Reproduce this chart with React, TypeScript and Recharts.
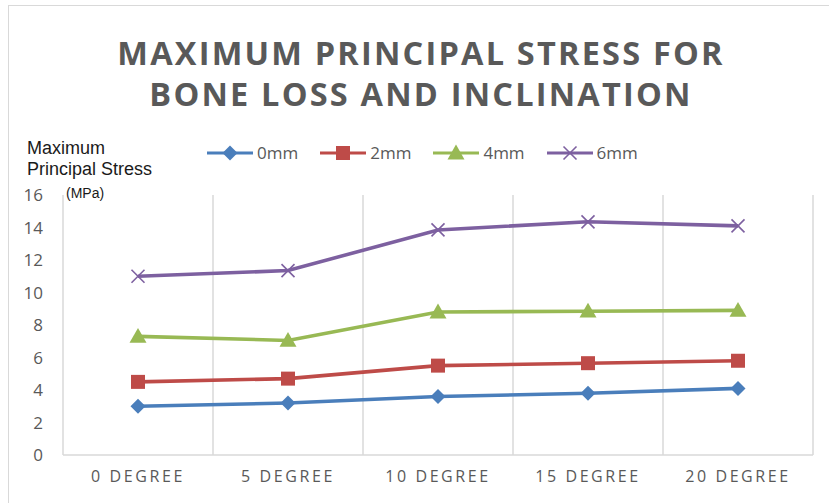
import { CartesianGrid, Line, LineChart, XAxis, YAxis } from 'recharts'

const categories = ['0 DEGREE', '5 DEGREE', '10 DEGREE', '15 DEGREE', '20 DEGREE']
const seriesNames = ['0mm', '2mm', '4mm', '6mm']
const loss0 = [3.0, 3.2, 3.6, 3.8, 4.1]
const loss2 = [4.5, 4.7, 5.5, 5.65, 5.8]
const loss4 = [7.3, 7.05, 8.8, 8.85, 8.9]
const loss6 = [11.0, 11.35, 13.85, 14.35, 14.1]
const yTicks = [0, 2, 4, 6, 8, 10, 12, 14, 16]

const data = categories.map((name, i) => ({
  name,
  '0mm': loss0[i],
  '2mm': loss2[i],
  '4mm': loss4[i],
  '6mm': loss6[i]
}))

const colors: Record<string, string> = {
  '0mm': '#4A7EBB',
  '2mm': '#BE4B48',
  '4mm': '#98B954',
  '6mm': '#7D60A0'
}

const GREY = '#595959'
const FONT = '"Open Sans", "DejaVu Sans", sans-serif'
const ARIAL = '"Liberation Sans", Arial, sans-serif'

function Marker({ kind, cx, cy, color }: { kind: string; cx: number; cy: number; color: string }) {
  if (kind === '0mm') {
    const r = 7.5
    return <polygon points={`${cx},${cy - r} ${cx + r},${cy} ${cx},${cy + r} ${cx - r},${cy}`} fill={color} />
  }
  if (kind === '2mm') {
    const r = 7
    return <rect x={cx - r} y={cy - r} width={r * 2} height={r * 2} fill={color} />
  }
  if (kind === '4mm') {
    const r = 8.5
    return <polygon points={`${cx},${cy - r} ${cx + r},${cy + r * 0.75} ${cx - r},${cy + r * 0.75}`} fill={color} />
  }
  const r = 6.5
  return (
    <g stroke={color} strokeWidth={1.6}>
      <line x1={cx - r} y1={cy - r} x2={cx + r} y2={cy + r} />
      <line x1={cx - r} y1={cy + r} x2={cx + r} y2={cy - r} />
    </g>
  )
}

const makeDot = (kind: string) => (props: any) => (
  <Marker key={`${kind}-${props.index}`} kind={kind} cx={props.cx} cy={props.cy} color={colors[kind]} />
)

function ChartLegend() {
  return (
    <div style={{ position: 'absolute', left: 207, top: 141, display: 'flex', alignItems: 'center' }}>
      {seriesNames.map((k) => (
        <div key={k} style={{ display: 'flex', alignItems: 'center', marginRight: 22 }}>
          <svg width={46} height={18}>
            <line x1={0} y1={9} x2={46} y2={9} stroke={colors[k]} strokeWidth={3} />
            <Marker kind={k} cx={23} cy={9} color={colors[k]} />
          </svg>
          <span style={{ marginLeft: 4, fontSize: 17, color: GREY, fontFamily: FONT }}>{k}</span>
        </div>
      ))}
    </div>
  )
}

export default function App() {
  return (
    <div style={{ position: 'fixed', left: 0, top: 0, width: 829, height: 503, background: '#fff', overflow: 'hidden' }}>
      <div style={{ position: 'absolute', left: 8, top: 5, width: 900, height: 600, borderLeft: '1.5px solid #d9d9d9', borderTop: '1.5px solid #d9d9d9' }} />
      <div
        style={{
          position: 'absolute', left: 0, top: 32, width: 842, textAlign: 'center',
          fontFamily: FONT, fontWeight: 700, fontSize: 32.5, lineHeight: '41px', letterSpacing: 2.2, color: GREY
        }}
      >
        <div>MAXIMUM PRINCIPAL STRESS FOR</div>
        <div>BONE LOSS AND INCLINATION</div>
      </div>
      <div style={{ position: 'absolute', left: 27, top: 138, fontFamily: ARIAL, fontSize: 18, lineHeight: '21px', color: '#1a1a1a' }}>
        Maximum
        <br />
        Principal Stress
      </div>
      <div style={{ position: 'absolute', left: 66, top: 185, fontFamily: ARIAL, fontSize: 14, color: '#1a1a1a' }}>
        (MPa)
      </div>
      <ChartLegend />
      <LineChart width={829} height={503} data={data} margin={{ top: 195, right: 16, bottom: 18, left: 0 }}>
        <CartesianGrid
          horizontal={false}
          stroke="#d9d9d9"
          strokeWidth={1.5}
          verticalCoordinatesGenerator={({ offset }: any) =>
            categories.map((_, i) => offset.left + (offset.width * (i + 1)) / categories.length)
          }
        />
        <XAxis
          dataKey="name"
          height={30}
          padding={{ left: 75, right: 75 }}
          axisLine={{ stroke: '#d9d9d9', strokeWidth: 1.5 }}
          tickLine={false}
          tickMargin={10}
          tick={{ fill: GREY, fontSize: 16, fontFamily: FONT, letterSpacing: 2.6 }}
          interval={0}
        />
        <YAxis
          width={63}
          domain={[0, 16]}
          ticks={yTicks}
          axisLine={{ stroke: '#d9d9d9', strokeWidth: 1.5 }}
          tickLine={false}
          tickMargin={14}
          tick={{ fill: GREY, fontSize: 17, fontFamily: FONT }}
        />
        {seriesNames.map((k) => (
          <Line
            key={k}
            dataKey={k}
            stroke={colors[k]}
            strokeWidth={3.6}
            dot={makeDot(k)}
            activeDot={false}
            isAnimationActive={false}
          />
        ))}
      </LineChart>
    </div>
  )
}
